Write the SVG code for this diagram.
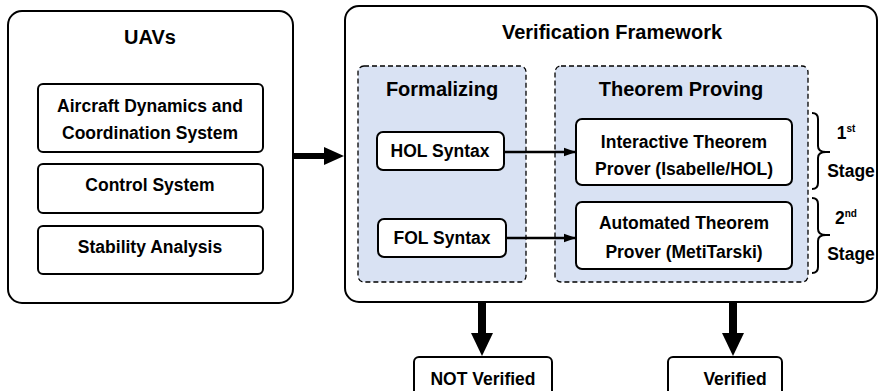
<svg xmlns="http://www.w3.org/2000/svg" width="878" height="391" viewBox="0 0 878 391">
<style>
text{font-family:"Liberation Sans",Arial,sans-serif;font-weight:bold;fill:#000;text-anchor:middle}
.t{font-size:20px}
.b{font-size:17.5px}
.box{fill:#fff;stroke:#000;stroke-width:2}
.big{fill:#fff;stroke:#000;stroke-width:2}
.dash{fill:#D9E2F3;stroke:#000;stroke-width:1.3;stroke-dasharray:5,3}
.thin{stroke:#000;stroke-width:2.5;fill:none}
.brace{stroke:#000;stroke-width:2;fill:none}
</style>
<defs>
<marker id="ah" viewBox="0 0 10 10" refX="10" refY="5" markerWidth="5" markerHeight="5" markerUnits="strokeWidth" orient="auto"><path d="M0,1.5 L10,5 L0,8.5 Z" fill="#000"/></marker>
</defs>
<g id="uavs">
<rect class="big" x="8" y="11" width="285" height="292" rx="14"/>
<text class="t" x="150" y="44">UAVs</text>
</g>
<g id="aircraft">
<rect class="box" x="38" y="84" width="225" height="68" rx="5"/>
<text class="b" x="150" y="112">Aircraft Dynamics and</text>
<text class="b" x="150" y="139">Coordination System</text>
</g>
<g id="control">
<rect class="box" x="38" y="164" width="225" height="49" rx="5"/>
<text class="b" x="150" y="191">Control System</text>
</g>
<g id="stability">
<rect class="box" x="38" y="226" width="225" height="48" rx="5"/>
<text class="b" x="150" y="253">Stability Analysis</text>
</g>
<g id="framework">
<rect class="big" x="345" y="6" width="532" height="296" rx="14"/>
<text class="t" x="612" y="39">Verification Framework</text>
</g>
<g id="formalizing">
<rect class="dash" x="358" y="66" width="168" height="216" rx="6"/>
<text class="t" x="442" y="96">Formalizing</text>
</g>
<g id="proving">
<rect class="dash" x="555" y="66" width="253" height="216" rx="6"/>
<text class="t" x="681" y="96">Theorem Proving</text>
</g>
<g id="hol">
<rect class="box" x="377" y="132" width="127" height="38" rx="6"/>
<text class="b" x="440" y="157">HOL Syntax</text>
</g>
<g id="fol">
<rect class="box" x="378" y="219" width="128" height="38" rx="6"/>
<text class="b" x="442" y="244">FOL Syntax</text>
</g>
<g id="itp">
<rect class="box" x="576" y="119" width="216" height="66" rx="6"/>
<text class="b" x="684" y="148">Interactive Theorem</text>
<text class="b" x="684" y="175">Prover (Isabelle/HOL)</text>
</g>
<g id="atp">
<rect class="box" x="576" y="202" width="216" height="67" rx="6"/>
<text class="b" x="684" y="229">Automated Theorem</text>
<text class="b" x="684" y="258">Prover (MetiTarski)</text>
</g>
<g id="stage1">
<text class="b" x="846" y="139">1<tspan font-size="10" dy="-7">st</tspan></text>
<text class="b" x="851" y="177">Stage</text>
</g>
<g id="stage2">
<text class="b" x="846" y="224">2<tspan font-size="10" dy="-7">nd</tspan></text>
<text class="b" x="851" y="260">Stage</text>
</g>
<g id="notverified">
<rect class="box" x="414" y="357" width="138" height="44" rx="5"/>
<text class="b" x="483" y="385">NOT Verified</text>
</g>
<g id="verified">
<rect class="box" x="668" y="357" width="114" height="44" rx="5"/>
<text class="b" x="735" y="385">Verified</text>
</g>
<g id="connectors">
<line x1="293" y1="156" x2="326" y2="156" stroke="#000" stroke-width="6"/>
<path d="M324,147 L344,156 L324,165 Z" fill="#000"/>
<line class="thin" x1="504" y1="152" x2="576" y2="152" marker-end="url(#ah)"/>
<line class="thin" x1="506" y1="238" x2="576" y2="238" marker-end="url(#ah)"/>
<line x1="482" y1="302" x2="482" y2="336" stroke="#000" stroke-width="8"/>
<path d="M471,333 L493,333 L482,356 Z" fill="#000"/>
<line x1="733" y1="302" x2="733" y2="336" stroke="#000" stroke-width="8"/>
<path d="M722,333 L744,333 L733,356 Z" fill="#000"/>
<path class="brace" d="M812,113 Q818,113 818,119 L818,146 Q818,152 826,152 L830,152 M826,152 Q818,152 818,158 L818,183 Q818,189 812,189"/>
<path class="brace" d="M812,198 Q818,198 818,204 L818,229 Q818,235 826,235 L830,235 M826,235 Q818,235 818,241 L818,267 Q818,273 812,273"/>
</g>
</svg>
